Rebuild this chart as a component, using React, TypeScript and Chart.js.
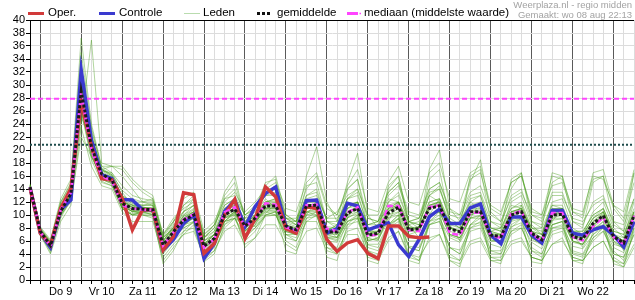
import React, { useEffect, useRef } from 'react';
import { Chart, registerables } from 'chart.js';

Chart.register(...registerables);

// ---- data ----
const dayLabels = ['Do 9', 'Vr 10', 'Za 11', 'Zo 12', 'Ma 13', 'Di 14', 'Wo 15', 'Do 16', 'Vr 17', 'Za 18', 'Zo 19', 'Ma 20', 'Di 21', 'Wo 22'];
const hourLabels = ['00u', '06u', '12u', '18u'];
const firstStep = 'Wo 8 18u';
const lastDay = 'Do 23';
const lastDayHours = ['00u', '06u', '12u'];

const stepLabels: string[] = [
  firstStep,
  ...dayLabels.flatMap((d) => hourLabels.map((h) => `${d} ${h}`)),
  ...lastDayHours.map((h) => `${lastDay} ${h}`),
];

const yMin = 0;
const yMax = 40;
const yTickCount = 21;

const oper = [
  14.2, 7.2, 5.4, 11.0, 14.1, 27.4, 20.5, 15.6, 15.4, 12.6,
  7.7, 10.8, 10.8, 4.6, 6.7, 13.4, 13.1, 4.1, 5.6, 10.0,
  12.4, 6.4, 9.5, 14.3, 12.8, 7.9, 7.2, 11.3, 11.0, 6.2,
  4.4, 5.7, 6.2, 4.1, 3.3, 8.3, 8.3, 6.7, 6.5, 6.6,
];

const controle = [
  14.3, 7.3, 5.0, 10.8, 12.3, 32.3, 21.5, 16.2, 15.6, 12.4,
  12.3, 10.8, 10.8, 4.6, 6.2, 8.7, 10.0, 3.3, 5.6, 10.5,
  12.3, 8.2, 11.3, 13.3, 14.3, 8.2, 7.4, 12.2, 12.3, 7.2,
  7.9, 11.8, 11.4, 7.7, 8.3, 8.8, 5.4, 3.6, 6.2, 9.7,
  10.9, 8.7, 8.7, 11.1, 11.7, 6.9, 5.6, 9.7, 9.7, 6.9,
  5.7, 10.7, 10.7, 7.2, 6.9, 7.7, 8.2, 6.9, 5.1, 9.0,
];

const gemiddelde = [
  14.3, 7.5, 5.3, 10.6, 13.3, 29.0, 20.5, 16.3, 15.4, 11.8,
  11.0, 10.9, 10.8, 5.4, 7.4, 9.2, 10.0, 5.2, 6.4, 10.0,
  10.9, 8.3, 9.5, 11.4, 11.4, 8.3, 7.7, 11.4, 11.5, 7.4,
  7.4, 10.3, 11.0, 6.9, 7.2, 10.3, 11.2, 7.7, 7.9, 11.0,
  11.4, 7.9, 7.4, 10.5, 10.5, 6.9, 6.7, 10.0, 10.5, 7.2,
  6.2, 10.0, 10.1, 6.7, 6.3, 8.7, 9.9, 6.7, 5.7, 9.9,
];

const mediaan = [
  14.3, 7.4, 5.2, 10.8, 13.5, 28.5, 20.0, 16.0, 15.2, 11.5,
  11.0, 10.8, 10.8, 5.3, 7.3, 9.3, 10.1, 5.0, 6.3, 10.4,
  11.2, 8.2, 9.4, 11.8, 11.6, 8.1, 7.6, 11.5, 11.6, 7.9,
  7.5, 10.4, 11.2, 6.8, 7.0, 11.4, 11.4, 7.7, 7.5, 11.2,
  11.5, 7.2, 6.9, 10.3, 10.4, 6.8, 6.5, 10.2, 10.6, 7.1,
  6.0, 10.3, 10.3, 6.6, 6.1, 8.3, 9.6, 6.6, 5.5, 9.9,
];

const mediaanLevel = 27.9;
const gemiddeldeLevel = 20.8;

const leden: number[][] = [
  [14.5, 7.8, 5.8, 11.5, 14.0, 31.0, 22.0, 17.0, 16.0, 13.0,
    12.0, 11.5, 11.8, 6.0, 8.2, 10.5, 11.5, 6.0, 7.5, 11.5,
    12.5, 9.0, 10.5, 13.0, 13.5, 9.5, 8.5, 13.0, 14.0, 9.0,
    8.5, 12.5, 13.5, 8.0, 8.0, 12.0, 13.5, 9.0, 8.5, 13.0,
    14.0, 9.5, 8.5, 12.5, 13.0, 8.0, 7.5, 12.0, 13.0, 8.5,
    7.0, 12.0, 12.5, 8.0, 7.0, 10.5, 12.0, 8.0, 6.5, 12.0],
  [14.0, 7.0, 4.8, 9.8, 12.5, 26.0, 18.5, 15.0, 14.5, 11.0,
    10.0, 10.0, 9.8, 4.5, 6.5, 8.0, 8.8, 4.2, 5.5, 8.5,
    9.5, 7.0, 8.0, 9.8, 10.0, 7.0, 6.5, 9.5, 9.8, 6.0,
    5.8, 8.5, 9.0, 5.5, 5.5, 8.5, 9.5, 6.0, 6.0, 9.0,
    9.5, 6.5, 5.8, 8.5, 8.8, 5.5, 5.0, 8.2, 8.8, 5.8,
    4.8, 8.0, 8.2, 5.2, 4.8, 7.0, 8.0, 5.0, 4.2, 8.0],
  [14.8, 8.2, 6.2, 12.5, 15.5, 37.2, 24.0, 17.5, 16.5, 13.5,
    11.5, 10.5, 11.0, 5.0, 7.0, 9.5, 10.5, 5.5, 7.0, 10.5,
    11.5, 8.0, 9.0, 12.0, 12.0, 8.0, 7.0, 11.0, 11.0, 7.0,
    7.5, 11.0, 12.0, 6.0, 6.5, 10.5, 12.0, 7.0, 7.5, 12.0,
    12.5, 7.0, 6.5, 10.0, 10.5, 6.0, 6.0, 9.5, 10.0, 6.5,
    5.5, 9.5, 10.0, 6.0, 5.5, 8.0, 9.5, 6.0, 5.0, 9.0],
  [14.2, 7.5, 5.5, 10.5, 13.0, 24.0, 36.9, 18.0, 17.5, 17.0,
    15.0, 13.5, 12.5, 6.5, 8.0, 9.0, 9.5, 6.0, 7.0, 9.0,
    9.5, 8.5, 10.0, 11.0, 11.0, 9.0, 9.0, 12.0, 12.5, 9.5,
    10.5, 13.0, 14.0, 10.0, 10.0, 13.5, 15.0, 10.5, 10.0, 14.0,
    15.0, 11.0, 10.0, 13.5, 14.5, 10.0, 9.0, 12.5, 13.5, 10.0,
    9.5, 13.0, 13.0, 9.5, 9.0, 11.5, 12.5, 9.0, 8.5, 12.5],
  [13.8, 6.8, 4.5, 10.0, 12.0, 22.0, 19.0, 16.0, 15.0, 11.5,
    10.5, 10.5, 10.0, 4.0, 6.0, 7.5, 8.0, 3.5, 5.0, 9.0,
    10.5, 7.5, 8.5, 11.5, 12.0, 7.5, 7.0, 10.5, 11.0, 6.5,
    6.0, 9.5, 10.5, 5.0, 4.5, 8.0, 9.0, 5.0, 4.5, 8.5,
    9.0, 5.0, 4.0, 7.5, 8.0, 4.0, 4.0, 7.0, 8.0, 4.5,
    3.5, 7.0, 7.5, 4.0, 3.5, 6.0, 7.5, 4.5, 3.0, 7.0],
  [14.4, 7.6, 5.2, 10.8, 13.5, 29.5, 20.0, 16.5, 15.5, 12.0,
    11.5, 11.0, 11.0, 5.5, 7.5, 9.0, 10.0, 5.0, 6.5, 10.0,
    11.0, 8.5, 9.5, 11.5, 11.5, 8.5, 8.0, 11.5, 11.5, 7.5,
    7.0, 10.0, 11.0, 7.0, 7.5, 10.0, 11.0, 7.5, 7.5, 11.0,
    11.5, 8.0, 7.5, 10.5, 10.5, 7.0, 6.5, 10.0, 10.5, 7.0,
    6.5, 10.0, 10.0, 6.5, 6.5, 8.5, 10.0, 6.5, 5.5, 10.0],
  [14.3, 7.4, 5.0, 10.2, 13.8, 30.5, 21.0, 16.0, 15.0, 12.5,
    11.0, 11.0, 10.5, 5.0, 7.0, 10.0, 11.5, 6.5, 8.0, 12.5,
    14.0, 10.0, 11.0, 13.5, 14.5, 10.0, 9.0, 14.0, 16.0, 11.0,
    10.0, 14.5, 17.0, 11.0, 10.5, 15.0, 17.5, 12.0, 11.5, 16.5,
    18.0, 12.5, 12.0, 16.5, 17.5, 11.5, 10.5, 15.0, 16.0, 11.0,
    10.0, 16.0, 15.5, 11.0, 10.5, 16.0, 15.5, 11.5, 9.5, 16.5],
  [14.1, 7.2, 5.6, 10.5, 12.8, 27.5, 19.5, 15.5, 15.0, 11.0,
    10.0, 10.5, 10.5, 5.0, 6.5, 8.5, 9.0, 4.5, 5.5, 9.0,
    9.5, 6.5, 8.0, 10.0, 10.0, 6.5, 6.0, 9.0, 9.0, 5.0,
    4.5, 7.5, 8.0, 4.0, 3.5, 6.5, 7.5, 4.0, 3.5, 6.0,
    7.0, 3.5, 3.0, 6.0, 6.5, 3.5, 3.5, 6.0, 6.5, 3.5,
    3.0, 5.5, 6.0, 3.5, 3.0, 5.0, 6.0, 3.0, 2.5, 5.5],
  [14.6, 7.9, 5.4, 11.2, 13.6, 28.0, 21.5, 16.8, 15.8, 12.2,
    11.2, 11.2, 11.0, 6.5, 8.0, 9.5, 10.5, 6.0, 7.0, 11.0,
    12.0, 9.0, 10.0, 12.5, 11.0, 8.0, 7.5, 10.5, 10.0, 7.5,
    8.5, 12.0, 11.5, 8.5, 9.0, 12.5, 12.0, 9.0, 9.5, 13.0,
    12.0, 8.5, 9.0, 12.0, 11.0, 7.5, 8.0, 11.5, 11.0, 8.0,
    8.0, 11.5, 11.0, 7.5, 7.5, 10.0, 11.0, 7.5, 7.0, 10.5],
  [14.0, 7.0, 4.6, 9.5, 12.5, 28.5, 20.5, 16.0, 15.2, 11.8,
    10.8, 10.0, 9.5, 3.0, 5.0, 7.0, 8.5, 3.0, 4.5, 8.0,
    9.5, 6.0, 7.5, 10.0, 10.5, 6.0, 5.0, 9.0, 10.0, 5.5,
    5.0, 9.0, 10.0, 4.5, 4.0, 8.5, 10.0, 5.0, 4.5, 9.0,
    10.0, 5.0, 4.0, 8.5, 9.5, 4.5, 4.0, 8.5, 9.5, 5.0,
    4.0, 8.5, 9.0, 4.5, 4.0, 7.0, 8.5, 4.0, 3.5, 8.0],
  [14.5, 7.7, 5.9, 11.8, 14.5, 31.5, 21.0, 17.0, 16.2, 13.8,
    12.5, 12.0, 12.0, 6.8, 9.0, 11.5, 12.5, 7.0, 8.5, 12.0,
    13.5, 10.5, 12.0, 14.0, 15.0, 11.0, 10.5, 15.0, 16.5, 11.5,
    10.0, 14.0, 15.5, 9.5, 9.0, 13.5, 15.0, 9.0, 8.5, 13.0,
    14.5, 9.0, 8.0, 12.0, 13.0, 8.0, 7.5, 11.0, 12.0, 8.0,
    7.0, 11.5, 11.5, 7.5, 7.0, 9.5, 11.0, 7.0, 6.0, 10.5],
  [13.9, 6.9, 4.0, 9.0, 11.5, 23.5, 17.5, 14.5, 14.0, 10.5,
    9.0, 9.0, 9.0, 3.5, 5.5, 7.0, 7.5, 3.5, 4.5, 7.5,
    8.5, 5.5, 6.5, 8.5, 8.5, 5.5, 4.5, 7.5, 8.0, 4.5,
    4.0, 7.0, 7.0, 3.5, 3.0, 6.0, 7.5, 3.5, 3.0, 6.5,
    7.0, 3.0, 2.5, 5.5, 6.0, 3.0, 3.0, 5.5, 6.0, 3.5,
    3.0, 5.5, 6.5, 3.0, 3.0, 5.0, 6.0, 3.0, 2.0, 5.0],
  [14.3, 7.5, 5.3, 10.6, 13.2, 29.0, 20.0, 16.2, 15.5, 12.0,
    11.5, 11.5, 11.5, 6.0, 8.5, 10.0, 11.0, 5.5, 7.0, 11.0,
    12.0, 9.0, 11.0, 14.5, 16.0, 10.0, 9.0, 16.0, 20.5, 12.0,
    9.0, 15.0, 19.5, 10.0, 8.0, 14.0, 16.0, 9.0, 8.0, 17.0,
    20.0, 11.0, 9.0, 15.0, 18.5, 10.5, 9.0, 14.0, 16.5, 10.0,
    9.0, 15.0, 16.0, 10.5, 9.5, 15.5, 16.0, 11.0, 9.0, 15.0],
  [14.2, 7.3, 5.1, 10.3, 13.0, 27.0, 19.0, 15.8, 15.0, 11.5,
    10.5, 10.2, 10.2, 4.8, 6.8, 8.0, 9.0, 4.0, 6.0, 9.5,
    10.0, 7.5, 9.0, 10.5, 10.0, 7.0, 7.0, 10.0, 10.5, 6.5,
    6.5, 9.0, 9.5, 6.0, 6.5, 9.5, 10.0, 6.5, 6.5, 10.0,
    10.5, 7.0, 6.5, 9.5, 9.5, 6.0, 6.0, 9.0, 9.5, 6.5,
    5.5, 8.5, 9.0, 6.0, 5.5, 8.0, 8.5, 5.5, 5.0, 8.5],
  [14.6, 7.9, 5.7, 11.0, 14.0, 33.0, 23.0, 17.5, 17.5, 16.0,
    14.0, 12.0, 11.5, 6.0, 8.0, 9.8, 10.8, 5.5, 7.0, 10.5,
    11.5, 8.5, 10.0, 12.0, 12.5, 9.0, 8.5, 12.0, 12.0, 8.0,
    7.5, 11.0, 11.5, 7.5, 7.0, 11.0, 12.0, 8.0, 8.0, 11.5,
    12.0, 8.0, 7.5, 11.0, 11.0, 7.0, 7.0, 10.5, 11.0, 7.5,
    7.0, 11.0, 11.0, 7.0, 7.0, 9.5, 10.5, 7.0, 6.5, 10.5],
  [14.4, 7.6, 5.0, 10.0, 12.8, 30.0, 20.8, 16.0, 15.2, 11.5,
    10.5, 11.0, 11.0, 5.2, 7.2, 9.5, 10.5, 5.0, 6.0, 9.5,
    10.5, 8.0, 9.0, 11.0, 11.5, 8.0, 7.5, 11.0, 11.0, 7.0,
    7.0, 10.5, 11.0, 6.5, 7.0, 10.5, 11.5, 7.5, 8.0, 11.0,
    11.5, 7.5, 7.0, 10.0, 10.5, 6.5, 6.5, 10.0, 10.5, 7.0,
    6.0, 10.0, 10.5, 6.5, 6.0, 8.5, 9.5, 6.5, 5.5, 10.0],
  [14.0, 7.1, 4.8, 10.4, 13.0, 26.5, 19.5, 15.2, 14.5, 11.0,
    10.0, 10.5, 10.0, 4.2, 6.0, 8.5, 9.5, 4.0, 5.5, 9.0,
    10.5, 7.0, 8.5, 10.5, 10.5, 7.0, 6.0, 10.0, 10.0, 5.0,
    4.0, 8.0, 9.5, 4.5, 3.5, 8.0, 9.5, 4.0, 3.0, 8.5,
    9.5, 4.0, 3.0, 8.0, 9.0, 3.5, 3.0, 7.5, 8.5, 3.5,
    3.0, 8.0, 8.5, 3.5, 3.0, 6.5, 8.0, 3.5, 2.5, 7.5],
  [14.6, 8.0, 6.0, 12.0, 14.8, 32.5, 22.5, 17.0, 16.0, 13.0,
    12.0, 12.0, 12.5, 7.0, 9.5, 11.0, 12.0, 7.0, 8.5, 11.5,
    12.5, 10.0, 11.0, 13.0, 13.0, 9.5, 9.0, 13.0, 13.5, 9.0,
    9.0, 12.5, 13.0, 8.5, 8.5, 12.0, 13.0, 9.0, 9.5, 13.5,
    14.0, 10.0, 9.5, 13.0, 13.5, 9.0, 8.5, 13.0, 14.0, 9.0,
    8.5, 13.5, 13.5, 9.0, 8.5, 12.0, 13.0, 8.5, 7.5, 12.5],
  [14.3, 7.4, 5.2, 10.7, 13.4, 28.0, 20.2, 16.4, 15.6, 11.8,
    11.2, 11.2, 11.0, 5.5, 7.6, 9.2, 10.2, 5.2, 6.6, 10.2,
    11.0, 8.4, 9.6, 11.6, 11.4, 8.2, 7.6, 11.4, 11.8, 7.6,
    7.2, 10.4, 11.0, 7.0, 7.2, 10.6, 11.4, 7.8, 8.0, 11.0,
    11.6, 8.0, 7.4, 10.6, 10.6, 7.0, 6.8, 10.2, 10.6, 7.2,
    6.2, 10.2, 10.2, 6.8, 6.4, 8.8, 10.0, 6.8, 5.8, 10.0],
  [14.2, 7.3, 5.5, 11.5, 13.5, 25.0, 21.5, 17.0, 17.5, 17.5,
    15.5, 14.0, 13.0, 7.0, 9.0, 10.5, 11.5, 6.5, 7.5, 10.5,
    11.0, 8.0, 9.0, 11.0, 11.0, 8.0, 7.5, 11.0, 11.0, 7.0,
    6.5, 10.0, 10.5, 6.5, 6.0, 10.0, 10.5, 7.0, 6.5, 10.0,
    10.5, 7.0, 6.5, 9.5, 10.0, 6.5, 6.0, 9.5, 10.0, 6.5,
    5.5, 9.5, 9.5, 6.0, 5.5, 8.5, 9.5, 6.0, 5.0, 9.0],
  [14.1, 7.1, 5.0, 10.0, 12.6, 27.0, 19.8, 15.8, 15.0, 11.2,
    10.2, 10.4, 10.6, 5.8, 6.2, 8.2, 9.8, 5.8, 5.2, 9.0,
    10.2, 8.8, 8.2, 10.2, 11.8, 8.8, 7.0, 10.0, 12.2, 8.0,
    6.5, 9.5, 12.0, 7.8, 6.2, 9.0, 12.0, 8.5, 6.5, 10.0,
    12.5, 8.5, 6.0, 9.5, 12.0, 7.5, 5.5, 9.0, 11.5, 7.5,
    5.5, 9.0, 11.0, 7.0, 5.0, 8.0, 10.5, 7.0, 4.5, 8.5],
  [14.3, 7.3, 4.2, 10.2, 13.0, 28.0, 20.0, 15.5, 14.8, 11.0,
    10.0, 10.0, 10.0, 2.5, 4.5, 7.5, 9.0, 2.8, 4.0, 8.5,
    10.0, 5.0, 6.5, 10.0, 10.5, 4.5, 4.0, 9.5, 10.5, 3.5,
    3.0, 8.5, 10.0, 3.0, 2.5, 8.5, 10.0, 3.0, 2.5, 9.0,
    10.5, 3.0, 2.0, 8.5, 10.0, 3.0, 2.5, 8.0, 9.5, 2.8,
    2.5, 8.5, 9.0, 3.0, 2.5, 7.5, 9.0, 2.5, 2.0, 8.0],
  [14.5, 7.6, 5.5, 11.0, 13.8, 30.0, 21.5, 16.5, 15.8, 12.5,
    11.5, 11.5, 11.5, 6.0, 8.0, 11.5, 13.0, 6.5, 8.0, 13.0,
    15.0, 9.5, 11.0, 15.0, 15.5, 9.5, 8.5, 14.5, 15.0, 9.0,
    8.0, 14.0, 15.5, 8.0, 7.0, 14.5, 16.0, 8.5, 7.5, 15.5,
    17.0, 9.0, 8.0, 16.0, 17.0, 9.0, 8.0, 15.5, 16.5, 9.0,
    8.0, 16.5, 16.0, 9.0, 8.0, 15.0, 16.0, 9.0, 7.5, 16.5],
  [14.4, 7.5, 5.3, 10.9, 13.6, 29.8, 20.5, 16.2, 15.3, 11.6,
    11.0, 11.0, 10.8, 5.6, 7.5, 9.5, 10.0, 5.4, 6.5, 10.2,
    11.2, 8.2, 9.8, 11.8, 11.5, 8.4, 7.8, 11.6, 11.6, 7.8,
    7.6, 10.6, 11.2, 7.2, 7.4, 10.8, 11.6, 8.0, 8.2, 11.4,
    11.8, 8.2, 7.6, 10.8, 10.8, 7.2, 7.0, 10.4, 10.8, 7.4,
    6.5, 10.4, 10.4, 7.0, 6.6, 9.0, 10.2, 7.0, 6.0, 10.2],
  [14.7, 8.0, 5.9, 12.0, 15.0, 35.0, 23.5, 17.2, 16.2, 12.8,
    11.8, 11.0, 11.2, 5.8, 7.8, 9.8, 10.5, 5.5, 7.0, 10.8,
    11.5, 8.8, 9.8, 12.0, 12.2, 8.8, 8.2, 12.0, 12.0, 8.2,
    8.0, 11.0, 12.0, 7.5, 7.5, 11.0, 12.0, 8.0, 8.0, 11.5,
    12.0, 8.5, 8.0, 11.0, 11.5, 7.5, 7.0, 10.5, 11.0, 7.5,
    7.0, 10.5, 11.0, 7.0, 6.8, 9.5, 10.5, 7.0, 6.0, 10.0],
  [14.2, 7.2, 5.0, 10.4, 13.0, 26.0, 19.0, 15.5, 14.8, 11.2,
    10.6, 10.6, 10.4, 4.8, 6.8, 8.8, 9.5, 4.6, 5.8, 9.5,
    10.2, 7.6, 8.8, 10.8, 10.8, 7.5, 7.0, 10.5, 10.8, 6.8,
    6.6, 9.6, 10.2, 6.2, 6.2, 9.6, 10.4, 6.6, 6.6, 10.2,
    10.6, 6.8, 6.2, 9.6, 9.8, 6.2, 5.8, 9.2, 9.8, 6.2,
    5.4, 9.2, 9.4, 5.8, 5.4, 7.8, 9.0, 5.8, 4.8, 9.0],
  [14.4, 7.7, 5.6, 11.4, 14.2, 30.8, 22.0, 16.8, 16.5, 14.5,
    13.0, 12.5, 12.2, 6.5, 8.8, 12.5, 13.5, 7.5, 9.0, 12.5,
    13.0, 10.0, 11.5, 13.5, 14.0, 9.5, 9.5, 12.5, 13.0, 9.5,
    9.5, 11.5, 12.0, 8.5, 9.0, 11.0, 11.5, 8.5, 9.0, 12.0,
    12.5, 9.0, 8.5, 11.5, 12.0, 8.0, 8.0, 11.0, 11.5, 8.0,
    7.5, 11.0, 11.0, 7.5, 7.5, 10.0, 11.0, 7.5, 7.0, 11.0],
  [14.3, 7.4, 5.2, 10.6, 13.1, 28.2, 20.3, 16.0, 15.2, 11.6,
    10.8, 10.8, 10.6, 5.2, 7.0, 9.0, 9.8, 5.0, 6.2, 9.8,
    10.8, 8.0, 9.2, 11.2, 11.2, 8.0, 7.4, 11.0, 11.2, 7.6,
    8.5, 12.5, 14.0, 9.5, 9.0, 13.0, 14.5, 10.0, 9.5, 14.0,
    15.0, 10.5, 10.0, 15.5, 16.5, 11.0, 10.0, 15.0, 16.0, 10.5,
    10.0, 14.5, 15.0, 10.5, 10.0, 16.5, 17.0, 11.5, 10.5, 17.0],
  [14.2, 7.3, 5.3, 10.5, 13.1, 27.8, 20.0, 16.0, 15.0, 11.4,
    10.6, 10.6, 10.6, 5.0, 7.0, 8.8, 9.6, 4.8, 6.0, 9.6,
    10.4, 7.6, 9.0, 10.8, 10.6, 7.4, 7.0, 10.4, 10.6, 6.6,
    6.2, 9.0, 9.6, 5.4, 5.0, 8.4, 9.4, 5.2, 5.0, 8.5,
    9.0, 5.0, 4.6, 8.0, 8.5, 4.5, 4.5, 7.5, 8.0, 4.5,
    4.0, 7.5, 8.0, 4.2, 3.8, 6.5, 7.5, 4.0, 3.5, 7.0],
  [14.4, 7.5, 5.4, 10.8, 13.4, 29.2, 20.6, 16.4, 15.6, 12.0,
    11.2, 11.2, 11.0, 5.5, 7.5, 10.5, 12.5, 6.5, 8.5, 13.5,
    16.0, 9.5, 10.0, 12.0, 12.5, 8.5, 8.0, 12.0, 12.5, 8.0,
    7.5, 11.5, 12.0, 7.5, 7.5, 11.5, 12.0, 8.0, 7.5, 11.5,
    12.0, 8.0, 7.5, 11.0, 11.5, 7.5, 7.0, 10.5, 11.0, 7.5,
    6.5, 10.5, 11.0, 7.0, 6.5, 9.0, 10.5, 7.0, 6.0, 10.5],
];

const legendNames = ['Oper.', 'Controle', 'Leden', 'gemiddelde', 'mediaan (middelste waarde)'];
const sourceText = 'Weerplaza.nl - regio midden';
const madeText = 'Gemaakt: wo 08 aug 22:13';

// ---- styles ----
const FONT = '"Liberation Sans", Arial, sans-serif';
const RED = '#d13a3a';
const BLUE = '#3a3acf';
const MEMBER = 'rgba(70,155,25,0.42)';
const MEMBER_LEGEND = '#b9dcae';
const MAGENTA = '#ff44ff';
const DARKTEAL = '#1d4b4b';

const decorPlugin = {
  id: 'decor',
  afterDraw(chart: any) {
    const { ctx, chartArea } = chart;
    ctx.save();
    // top border
    ctx.strokeStyle = '#000';
    ctx.lineWidth = 1;
    ctx.beginPath();
    ctx.moveTo(chartArea.left, chartArea.top + 0.5);
    ctx.lineTo(chartArea.right, chartArea.top + 0.5);
    ctx.stroke();

    // legend
    const ly = 13;
    ctx.font = `11.5px ${FONT}`;
    ctx.textBaseline = 'middle';
    ctx.fillStyle = '#000';
    const seg = (x1: number, x2: number, color: string, w: number, dash: number[]) => {
      ctx.beginPath();
      ctx.setLineDash(dash);
      ctx.strokeStyle = color;
      ctx.lineWidth = w;
      ctx.moveTo(x1, ly + 0.5);
      ctx.lineTo(x2, ly + 0.5);
      ctx.stroke();
      ctx.setLineDash([]);
    };
    seg(28, 44, RED, 3, []);
    ctx.fillText(legendNames[0], 48, ly);
    seg(99, 115, BLUE, 3, []);
    ctx.fillText(legendNames[1], 119, ly);
    seg(184, 200, MEMBER_LEGEND, 1, []);
    ctx.fillText(legendNames[2], 203, ly);
    seg(257, 272, '#111', 3, [3, 2]);
    ctx.fillText(legendNames[3], 277, ly);
    seg(347, 358, MAGENTA, 3, []);
    seg(359.5, 361, MAGENTA, 1.5, []);
    ctx.fillText(legendNames[4], 364, ly);

    // header
    ctx.font = `9.5px ${FONT}`;
    ctx.fillStyle = '#a3a3a3';
    ctx.textAlign = 'right';
    ctx.fillText(sourceText, 632, 5);
    ctx.fillText(madeText, 632, 15);
    ctx.restore();
  },
};

export default function App() {
  const ref = useRef<HTMLCanvasElement | null>(null);

  useEffect(() => {
    document.body.style.margin = '0';
    const canvas = ref.current;
    if (!canvas) return;

    const memberSets = leden.map((m, k) => ({
      label: `lid ${k + 1}`,
      data: m,
      borderColor: MEMBER,
      borderWidth: 1,
      pointRadius: 0,
      order: 10,
    }));

    const firstLabel = stepLabels[0];
    const lastLabel = stepLabels[stepLabels.length - 1];

    const chart = new Chart(canvas, {
      type: 'line',
      data: {
        labels: stepLabels,
        datasets: [
          ...memberSets,
          {
            label: 'mediaan niveau',
            data: [{ x: firstLabel, y: mediaanLevel }, { x: lastLabel, y: mediaanLevel }] as any,
            borderColor: MAGENTA,
            borderWidth: 2,
            borderDash: [5, 3],
            pointRadius: 0,
            order: 8,
          },
          {
            label: 'gemiddelde niveau',
            data: [{ x: firstLabel, y: gemiddeldeLevel }, { x: lastLabel, y: gemiddeldeLevel }] as any,
            borderColor: DARKTEAL,
            borderWidth: 2,
            borderDash: [2, 2],
            pointRadius: 0,
            order: 8,
          },
          {
            label: legendNames[1],
            data: controle,
            borderColor: BLUE,
            borderWidth: 3.5,
            pointRadius: 0,
            order: 4,
          },
          {
            label: legendNames[0],
            data: oper,
            borderColor: RED,
            borderWidth: 3.5,
            pointRadius: 0,
            order: 3,
          },
          {
            label: legendNames[4],
            data: mediaan,
            borderColor: MAGENTA,
            borderWidth: 2.5,
            borderDash: [6, 3],
            pointRadius: 0,
            order: 2,
          },
          {
            label: legendNames[3],
            data: gemiddelde,
            borderColor: '#1a1a1a',
            borderWidth: 3,
            borderDash: [3, 2],
            pointRadius: 0,
            order: 1,
          },
        ],
      },
      options: {
        responsive: false,
        animation: false,
        devicePixelRatio: 1,
        layout: { padding: { top: 20, right: 1, left: 0, bottom: 0 } },
        plugins: {
          legend: { display: false },
          tooltip: { enabled: false },
          title: { display: false },
        },
        elements: { line: { tension: 0, borderJoinStyle: 'miter', borderCapStyle: 'butt' } },
        scales: {
          x: {
            type: 'category',
            offset: false,
            afterFit: (s: any) => {
              s.height = 20;
            },
            border: { color: '#000', width: 1 },
            grid: {
              offset: false,
              color: (c: any) => ((c.index - 1) % 4 === 0 ? '#5a5a5a' : '#dcdcdc'),
              tickColor: '#000',
              tickLength: 4,
              drawTicks: true,
            },
            ticks: {
              autoSkip: false,
              maxRotation: 0,
              minRotation: 0,
              padding: 1,
              color: '#000',
              font: { family: FONT, size: 11 },
              callback: (_v: any, idx: number) => {
                const k = (idx - 3) / 4;
                return Number.isInteger(k) && k >= 0 && k < dayLabels.length ? dayLabels[k] : '';
              },
            },
          },
          y: {
            min: yMin,
            max: yMax,
            afterFit: (s: any) => {
              s.width = 30;
            },
            border: { color: '#000', width: 1 },
            grid: {
              color: '#dcdcdc',
              tickColor: '#000',
              tickLength: 4,
            },
            ticks: {
              count: yTickCount,
              autoSkip: false,
              padding: 1,
              color: '#000',
              font: { family: FONT, size: 11 },
            },
          },
        },
      },
      plugins: [decorPlugin],
    });

    return () => chart.destroy();
  }, []);

  return (
    <div style={{ width: 635, height: 300, position: 'relative', background: '#fff' }}>
      <canvas ref={ref} width={635} height={300} />
    </div>
  );
}
